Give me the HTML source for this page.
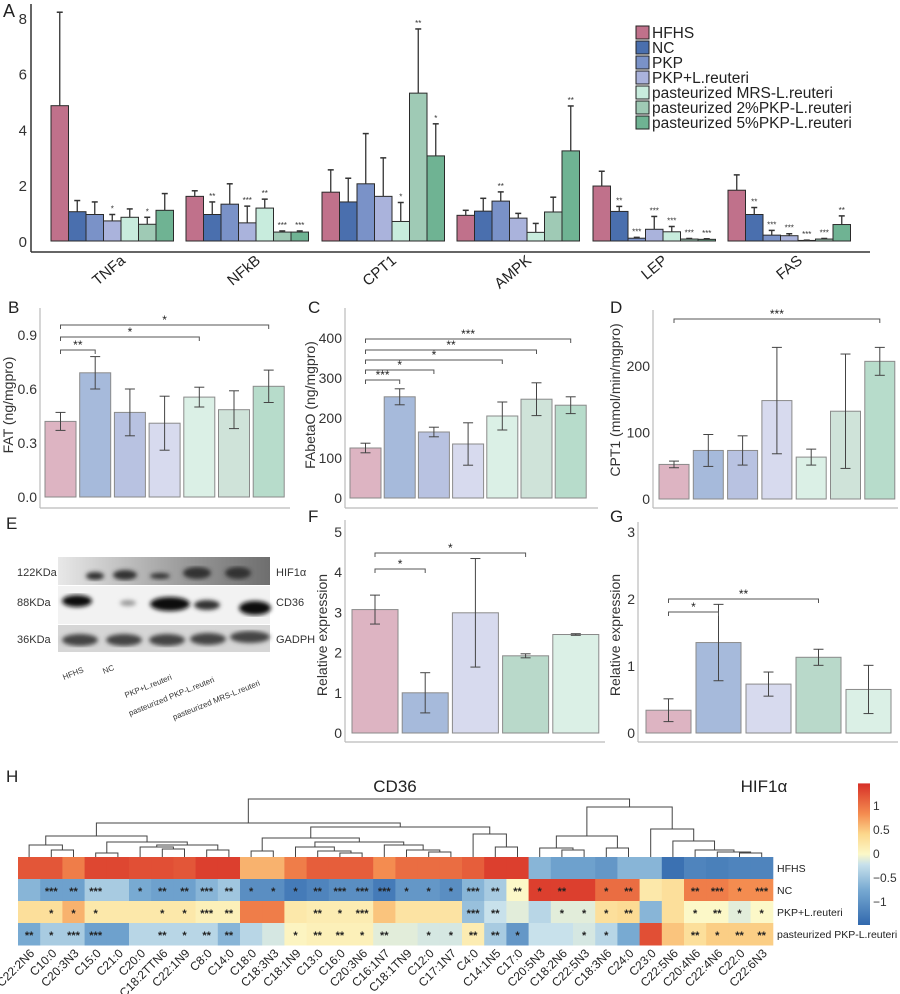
<!DOCTYPE html>
<html><head><meta charset="utf-8"><style>
body{margin:0;background:#fff}
svg{display:block;font-family:"Liberation Sans","Noto Sans CJK SC",sans-serif}
</style></head><body>
<svg id="fig" width="900" height="994" viewBox="0 0 900 994" xmlns="http://www.w3.org/2000/svg">
<defs>
<filter id="blur2"><feGaussianBlur stdDeviation="2"/></filter>
<filter id="blur1"><feGaussianBlur stdDeviation="1"/></filter>
<linearGradient id="hifg" x1="0" x2="1"><stop offset="0" stop-color="#e8e8e8"/><stop offset="0.6" stop-color="#9a9a9a"/><stop offset="1" stop-color="#6e6e6e"/></linearGradient>
</defs>
<g id="panelA"></g>
<g id="panelB"></g>
<g id="panelC"></g>
<g id="panelD"></g>
<g id="panelE">
  <text x="6" y="529" font-size="17" fill="#222">E</text>
  <rect x="58" y="557" width="212" height="28" fill="url(#hifg)"/>
  <g filter="url(#blur2)" fill="#333">
    <ellipse cx="95" cy="576" rx="9" ry="4"/><ellipse cx="125" cy="575" rx="12" ry="5"/>
    <ellipse cx="160" cy="576" rx="10" ry="3"/><ellipse cx="197" cy="573" rx="14" ry="6"/><ellipse cx="238" cy="573" rx="13" ry="6"/>
  </g>
  <rect x="58" y="586" width="212" height="38" fill="#f2f2f2"/>
  <g filter="url(#blur2)" fill="#111">
    <ellipse cx="77" cy="601" rx="15" ry="6"/><ellipse cx="128" cy="603" rx="8" ry="3" fill="#999"/>
    <ellipse cx="170" cy="604" rx="20" ry="7"/><ellipse cx="207" cy="605" rx="13" ry="5" fill="#333"/><ellipse cx="255" cy="608" rx="16" ry="7"/>
  </g>
  <rect x="58" y="625" width="212" height="27" fill="#d6d6d6"/>
  <g filter="url(#blur2)" fill="#444">
    <ellipse cx="80" cy="640" rx="18" ry="6"/><ellipse cx="124" cy="640" rx="18" ry="6"/><ellipse cx="167" cy="640" rx="18" ry="6"/><ellipse cx="208" cy="639" rx="18" ry="6"/><ellipse cx="250" cy="637" rx="20" ry="6"/>
  </g>
  <g font-size="11" fill="#333">
    <text x="17" y="576">122KDa</text><text x="17" y="606">88KDa</text><text x="17" y="643">36KDa</text>
    <text x="276" y="576">HIF1α</text><text x="276" y="606">CD36</text><text x="276" y="643">GADPH</text>
  </g>
  <g font-size="8" fill="#333">
    <text transform="translate(64,680) rotate(-22)">HFHS</text>
    <text transform="translate(104,674) rotate(-22)">NC</text>
    <text transform="translate(126,698) rotate(-22)">PKP+L.reuteri</text>
    <text transform="translate(130,716) rotate(-22)">pasteurized PKP-L.reuteri</text>
    <text transform="translate(174,720) rotate(-22)">pasteurized MRS-L.reuteri</text>
  </g>
</g>
<g id="panelF"></g>
<g id="panelG"></g>
<g id="panelH"></g>
</svg>
<script>
// ---------- Panel A data ----------
const aGenes = ['TNFa','NFkB','CPT1','AMPK','LEP','FAS'];
const aGroups = ['HFHS','NC','PKP','PKP+L.reuteri','pasteurized MRS-L.reuteri','pasteurized 2%PKP-L.reuteri','pasteurized 5%PKP-L.reuteri'];
const aTNFa = [4.85,1.05,0.95,0.72,0.85,0.6,1.1];
const aTNFaErr = [8.2,1.45,1.4,0.95,1.15,0.85,1.7];
const aNFkB = [1.6,0.95,1.32,0.65,1.18,0.32,0.32];
const aNFkBErr = [1.8,1.4,2.05,1.25,1.5,0.36,0.36];
const aCPT1 = [1.75,1.4,2.05,1.6,0.7,5.3,3.05];
const aCPT1Err = [2.55,2.25,3.85,2.98,1.38,7.6,4.2];
const aAMPK = [0.92,1.07,1.43,0.82,0.31,1.04,3.23];
const aAMPKErr = [1.1,1.53,1.76,0.99,0.63,1.57,4.84];
const aLEP = [1.97,1.06,0.1,0.42,0.33,0.07,0.06];
const aLEPErr = [2.5,1.24,0.13,0.88,0.52,0.09,0.08];
const aFAS = [1.82,0.95,0.21,0.19,0.02,0.07,0.59];
const aFASErr = [2.37,1.2,0.38,0.26,0.03,0.09,0.9];
const aSig = [['','','','*','','*',''],['','**','','***','**','***','***'],['','','','','*','**','*'],['','','**','','','','**'],['','**','***','***','***','***','***'],['','**','***','***','***','***','**']];
const aTicks = [0,2,4,6,8];
// ---------- Panels B-D ----------
const bVals = [0.42,0.69,0.47,0.41,0.555,0.485,0.615];
const bErr = [0.05,0.09,0.13,0.15,0.055,0.105,0.09];
const bTicks = [0.0,0.3,0.6,0.9];
const cVals = [125,253,165,135,205,247,232];
const cErr = [12,20,12,53,35,41,21];
const cTicks = [0,100,200,300,400];
const dVals = [52,73,73,148,63,132,207];
const dErr = [5,24,22,80,12,86,21];
const dTicks = [0,100,200];
// ---------- Panels F-G ----------
const fVals = [3.07,1.0,2.99,1.92,2.45];
const fErr = [0.36,0.5,1.35,0.05,0.02];
const fTicks = [0,1,2,3,4,5];
const gVals = [0.34,1.35,0.73,1.13,0.65];
const gErr = [0.17,0.57,0.18,0.12,0.36];
const gTicks = [0,1,2,3];
// ---------- Panel H ----------
const hCols = ['C22:2N6','C10:0','C20:3N3','C15:0','C21:0','C20:0','C18:2TTN6','C22:1N9','C8:0','C14:0','C18:0','C18:3N3','C18:1N9','C13:0','C16:0','C20:3N6','C16:1N7','C18:1TN9','C12:0','C17:1N7','C4:0','C14:1N5','C17:0','C20:5N3','C18:2N6','C22:5N3','C18:3N6','C24:0','C23:0','C22:5N6','C20:4N6','C22:4N6','C22:0','C22:6N3'];
const hRows = ['HFHS','NC','PKP+L.reuteri','pasteurized PKP-L.reuteri'];
const hHFHS = [1.15,1.15,0.9,1.25,1.25,1.2,1.2,1.15,1.3,1.3,0.6,0.6,0.9,1.1,1.1,1.1,0.8,1.0,1.0,1.0,1.1,1.3,1.3,-0.6,-0.8,-0.8,-0.9,-0.6,-0.6,-1.3,-1.1,-1.15,-1.1,-1.1];
const hNC = [-0.6,-0.8,-0.8,-0.4,-0.4,-0.7,-0.8,-0.8,-0.6,-0.45,-1.0,-1.0,-1.2,-1.1,-1.0,-1.0,-1.2,-0.9,-0.9,-1.0,-0.6,-0.4,0.0,1.3,1.3,1.3,1.0,1.0,0.2,0.3,0.9,0.9,0.8,0.8];
const hPKPL = [0.3,0.3,0.6,0.2,0.2,0.2,0.2,0.2,0.1,0.1,0.9,0.9,0.2,0.15,0.15,0.15,0.5,0.25,0.25,0.25,-0.5,-0.2,-0.1,-0.3,-0.1,-0.1,0.3,0.35,-0.6,0.3,0.0,0.0,-0.1,0.0];
const hPast = [-0.7,-0.4,-0.4,-0.8,-0.8,-0.3,-0.3,-0.3,-0.3,-0.6,-0.3,-0.15,0.05,0.1,0.1,0.1,-0.1,-0.1,-0.15,-0.15,0.15,-0.4,-0.9,-0.2,-0.2,-0.15,-0.3,-0.7,1.2,0.5,0.3,0.45,0.45,0.45];
const hSigNC = ['','***','**','***','','*','**','**','***','**','*','*','*','**','***','***','***','*','*','*','***','**','**','*','**','','*','**','','','**','***','*','***'];
const hSigPKPL = ['','*','*','*','','','*','*','***','**','','','','**','*','***','','','','','***','**','','','*','*','*','**','','','*','**','*','*'];
const hSigPast = ['**','*','***','***','','','**','*','**','**','','','*','**','**','*','**','','*','*','**','**','*','','','*','*','','','','**','*','**','**'];
const cbTicks = [1,0.5,0,-0.5,-1];

const NS='http://www.w3.org/2000/svg';
function mk(parent,tag,attrs,text){const e=document.createElementNS(NS,tag);for(const k in attrs)e.setAttribute(k,attrs[k]);if(text!==undefined)e.textContent=text;parent.appendChild(e);return e;}

// ===== Panel A =====
(function(){
  const g=document.getElementById('panelA');
  const y0=241, ppu=27.9, bw=17.5;
  const gx=[51,186,322,457,593,728];
  const cols=['#c0718b','#4a6fae','#7a92c8','#aab3dc','#c8ecdd','#9fcab5','#6fb393'];
  const vals=[aTNFa,aNFkB,aCPT1,aAMPK,aLEP,aFAS], errs=[aTNFaErr,aNFkBErr,aCPT1Err,aAMPKErr,aLEPErr,aFASErr];
  const ys=v=>y0-v*ppu;
  mk(g,'text',{x:3,y:17,'font-size':18,fill:'#222'},'A');
  mk(g,'line',{x1:31,y1:4,x2:31,y2:252,stroke:'#333','stroke-width':1.5});
  mk(g,'line',{x1:31,y1:252,x2:870,y2:252,stroke:'#333','stroke-width':1.5});
  aTicks.forEach(t=>{const e=mk(g,'text',{x:27,y:ys(t)+6,'font-size':15,'text-anchor':'end',fill:'#333'},t);
    
    });
  aGenes.forEach((gn,gi)=>{
    vals[gi].forEach((v,i)=>{
      const x=gx[gi]+i*bw;
      const r=mk(g,'rect',{x:x,y:ys(v),width:bw,height:v*ppu,fill:cols[i],stroke:'#2a2a2a','stroke-width':1});
      
      
      const cx=x+bw/2, et=ys(errs[gi][i]);
      mk(g,'line',{x1:cx,y1:ys(v),x2:cx,y2:et,stroke:'#333','stroke-width':1.3});
      mk(g,'line',{x1:cx-3,y1:et,x2:cx+3,y2:et,stroke:'#333','stroke-width':1.5});
      if(aSig[gi][i]) mk(g,'text',{x:cx,y:et-3,'font-size':8,'text-anchor':'middle',fill:'#333'},aSig[gi][i]);
    });
    const cx=gx[gi]+3.5*bw;
    const t=mk(g,'text',{transform:`translate(${cx+14},${262}) rotate(-40)`,'font-size':15,'text-anchor':'end',fill:'#222'},gn);
    
    
  });
  aGroups.forEach((n,i)=>{
    const y=26+i*15;
    const s=mk(g,'rect',{x:636,y:y,width:13,height:13,fill:cols[i],stroke:'#222','stroke-width':1});
    
    
    const t=mk(g,'text',{x:652,y:y+12,'font-size':15.5,fill:'#222'},n);
    
    
  });
})();

function smallBar(id,cfg){
  const g=document.getElementById(id);
  const ys=v=>cfg.y0-v*cfg.ppu;
  mk(g,'text',{x:cfg.lx,y:cfg.ly,'font-size':17,fill:'#222'},cfg.letter);
  mk(g,'line',{x1:cfg.ax,y1:cfg.top,x2:cfg.ax,y2:cfg.bot,stroke:'#bbb','stroke-width':1.2});
  mk(g,'line',{x1:cfg.ax,y1:cfg.bot,x2:cfg.right,y2:cfg.bot,stroke:'#bbb','stroke-width':1.2});
  cfg.ticks.forEach(t=>{const e=mk(g,'text',{x:cfg.ax-3,y:ys(t)+5,'font-size':14,'text-anchor':'end',fill:'#333'},cfg.fmt?cfg.fmt(t):t);
    
    });
  const yl=mk(g,'text',{transform:`translate(${cfg.ylx},${cfg.yly}) rotate(-90)`,'font-size':14,'text-anchor':'middle',fill:'#333'},cfg.ylabel);
  
  
  cfg.vals.forEach((v,i)=>{
    const x=cfg.x0+i*cfg.stride;
    const r=mk(g,'rect',{x:x,y:ys(v),width:cfg.bw,height:v*cfg.ppu,fill:cfg.cols[i],stroke:'#8a8a8a','stroke-width':1});
    
    
    const cx=x+cfg.bw/2,e=cfg.errs[i];
    mk(g,'line',{x1:cx,y1:ys(v+e),x2:cx,y2:ys(v-e),stroke:'#444','stroke-width':1});
    mk(g,'line',{x1:cx-5,y1:ys(v+e),x2:cx+5,y2:ys(v+e),stroke:'#444','stroke-width':1});
    mk(g,'line',{x1:cx-5,y1:ys(v-e),x2:cx+5,y2:ys(v-e),stroke:'#444','stroke-width':1});
  });
  (cfg.br||[]).forEach(b=>{
    const x1=cfg.x0+b[0]*cfg.stride+cfg.bw/2,x2=cfg.x0+b[1]*cfg.stride+cfg.bw/2;
    mk(g,'path',{d:`M${x1},${b[2]+4}V${b[2]}H${x2}V${b[2]+4}`,fill:'none',stroke:'#555','stroke-width':1});
    mk(g,'text',{x:(x1+x2)/2,y:b[2]-1,'font-size':12,'text-anchor':'middle',fill:'#222'},b[3]);
  });
  if(cfg.xlabel){const t=mk(g,'text',{x:cfg.xlx,y:cfg.xly,'font-size':17,'text-anchor':'middle',fill:'#222'},cfg.xlabel);
    
    }
}
const c7=['#ddb4c2','#a6badb','#b8c2e1','#d7daee','#dbf0e6','#cfe3d9','#b7dccb'];
smallBar('panelB',{letter:'B',lx:8,ly:313,ax:40,top:308,bot:508,right:290,y0:497,ppu:180,ticks:bTicks,fmt:t=>t.toFixed(1),
  ylx:13,yly:405,ylabel:'FAT (ng/mgpro)',x0:45,stride:34.7,bw:31,vals:bVals,errs:bErr,cols:c7,
  br:[[0,1,350,'**'],[0,4,337,'*'],[0,6,325,'*']]});
smallBar('panelC',{letter:'C',lx:308,ly:313,ax:345,top:308,bot:508,right:598,y0:498,ppu:0.4,ticks:cTicks,
  ylx:315,yly:405,ylabel:'FAbetaO (ng/mgpro)',x0:350,stride:34.2,bw:31,vals:cVals,errs:cErr,cols:c7,
  br:[[0,1,380,'***'],[0,2,370,'*'],[0,4,360,'*'],[0,5,350,'**'],[0,6,339,'***']]});
smallBar('panelD',{letter:'D',lx:610,ly:313,ax:653,top:310,bot:508,right:898,y0:499,ppu:0.665,ticks:dTicks,
  ylx:620,yly:400,ylabel:'CPT1 (mmol/min/mgpro)',x0:659,stride:34.3,bw:30,vals:dVals,errs:dErr,cols:c7,
  br:[[0,6,319,'***']]});
const c5f=['#ddb4c2','#a6badb','#d7daee','#b9d9ca','#dbf0e6'];
smallBar('panelF',{letter:'F',lx:308,ly:522,ax:345,top:520,bot:742,right:605,y0:733,ppu:40.2,ticks:fTicks,
  ylx:327,yly:635,ylabel:'Relative expression',x0:352,stride:50.2,bw:46,vals:fVals,errs:fErr,cols:c5f,
  br:[[0,1,569,'*'],[0,3,553,'*']],xlabel:'CD36',xlx:395,xly:792});
smallBar('panelG',{letter:'G',lx:610,ly:522,ax:638,top:522,bot:742,right:898,y0:733,ppu:67,ticks:gTicks,
  ylx:620,yly:635,ylabel:'Relative expression',x0:646,stride:50,bw:45,vals:gVals,errs:gErr,cols:c5f,
  br:[[0,1,612,'*'],[0,3,599,'**']],xlabel:'HIF1α',xlx:764,xly:792});

// ===== Panel H =====
(function(){
  const g=document.getElementById('panelH');
  const x0=18,cw=22.2,y0=857,rh=22;
  const cx=i=>x0+(i+0.5)*cw;
  mk(g,'text',{x:6,y:782,'font-size':17,fill:'#222'},'H');
  const stops=[[-1.4,[49,104,173]],[-0.7,[120,170,210]],[-0.2,[200,225,235]],[0,[252,248,200]],[0.4,[252,215,140]],[0.8,[244,140,80]],[1.4,[215,48,39]]];
  function col(v){v=Math.max(-1.4,Math.min(1.4,v));for(let k=0;k<stops.length-1;k++){const a=stops[k],b=stops[k+1];if(v<=b[0]){const t=(v-a[0])/(b[0]-a[0]);const c=a[1].map((u,j)=>Math.round(u+(b[1][j]-u)*t));return `rgb(${c})`;}}return 'rgb(215,48,39)';}
  const rows=[hHFHS,hNC,hPKPL,hPast], sigs=[null,hSigNC,hSigPKPL,hSigPast];
  rows.forEach((row,r)=>{
    row.forEach((v,i)=>{
      const c=mk(g,'rect',{x:x0+i*cw,y:y0+r*rh,width:cw+0.5,height:rh+0.5,fill:col(v)});
      
      
      if(sigs[r]&&sigs[r][i]) mk(g,'text',{x:cx(i),y:y0+r*rh+16,'font-size':11,'font-weight':'bold','text-anchor':'middle',fill:'#222'},sigs[r][i]);
    });
    const t=mk(g,'text',{x:777,y:y0+r*rh+15,'font-size':10.5,fill:'#222'},hRows[r]);
    
    
  });
  hCols.forEach((n,i)=>{const t=mk(g,'text',{transform:`translate(${cx(i)+6},${954}) rotate(-45)`,'font-size':12,'text-anchor':'end',fill:'#222'},n);
    
    });
  const tree=[[[[0,[1,2,850],845],[[3,4,853],[[5,[6,7,849],847],[8,9,850],845],842],836],
     [[[10,11,851],[[12,[13,[14,15,853],851],847],[16,[17,[18,19,852],850],845],842],838],[20,[21,22,847],834],827],823],
     [[[23,[24,25,850],848],[26,27,848],836],[28,[29,[30,[31,[32,33,853],852],850],841],829],807],799];
  function draw(n){
    if(typeof n==='number') return [cx(n),y0];
    const a=draw(n[0]),b=draw(n[1]),y=n[2];
    mk(g,'path',{d:`M${a[0]},${a[1]}V${y}H${b[0]}V${b[1]}`,fill:'none',stroke:'#444','stroke-width':1});
    return [(a[0]+b[0])/2,y];
  }
  draw(tree);
  const cb=document.createElementNS(NS,'linearGradient');cb.setAttribute('id','cbg');cb.setAttribute('x1',0);cb.setAttribute('x2',0);cb.setAttribute('y1',1);cb.setAttribute('y2',0);
  stops.forEach(s=>{const st=document.createElementNS(NS,'stop');st.setAttribute('offset',(s[0]+1.4)/2.8);st.setAttribute('stop-color',`rgb(${s[1]})`);cb.appendChild(st);});
  document.querySelector('defs').appendChild(cb);
  const yv=v=>853-v*48;
  const bar=mk(g,'rect',{x:858,y:yv(1.45),width:12,height:yv(-1.5)-yv(1.45),fill:'url(#cbg)'});
  
  
  cbTicks.forEach(t=>{const e=mk(g,'text',{x:873,y:yv(t)+5,'font-size':12,fill:'#333'},t===0?'0':(t<0?'−'+Math.abs(t):t));
    
    });
})();
</script>
</body></html>
